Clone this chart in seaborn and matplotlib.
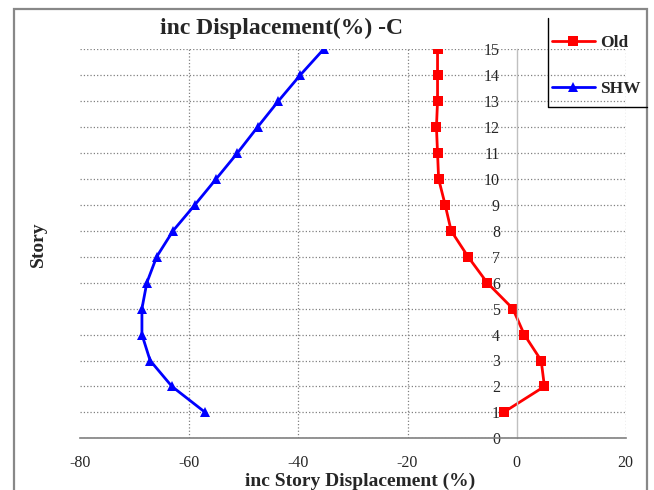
import matplotlib
matplotlib.use('Agg')
import matplotlib.pyplot as plt
import matplotlib.patches as mpatches
from matplotlib.lines import Line2D
import numpy as np
import pandas as pd
import seaborn as sns

# data
stories = list(range(1, 16))
old_disp = [-2.4, 5.1, 4.5, 1.4, -0.7, -5.4, -8.9, -12.0, -13.1, -14.3,
            -14.5, -14.7, -14.5, -14.5, -14.5]
shw_disp = [-57.1, -63.2, -67.2, -68.7, -68.7, -67.8, -66.0, -63.0, -59.0,
            -55.1, -51.2, -47.5, -43.7, -39.7, -35.4]
series_names = ['Old', 'SHW']
x_ticks = [-80, -60, -40, -20, 0, 20]
y_ticks = list(range(0, 16))

df = pd.concat([
    pd.DataFrame({'story': stories, 'disp': old_disp, 'series': 'Old'}),
    pd.DataFrame({'story': stories, 'disp': shw_disp, 'series': 'SHW'}),
], ignore_index=True)

sns.set_style('white')
plt.rcParams['font.family'] = ['Liberation Serif', 'DejaVu Serif']
plt.rcParams['axes.unicode_minus'] = False

fig = plt.figure(figsize=(6.54, 4.9), dpi=100)
ax = fig.add_axes([80.3 / 654, 51.7 / 490, 545.4 / 654, 389 / 490])

sns.lineplot(data=df, x='disp', y='story', hue='series', style='series',
             hue_order=series_names, style_order=series_names,
             palette={'Old': 'red', 'SHW': 'blue'},
             markers={'Old': 's', 'SHW': '^'}, dashes=False, sort=False,
             estimator=None, linewidth=2.0, markersize=7.5, markeredgewidth=0,
             ax=ax)

ax.set_xlim(-80, 20)
ax.set_ylim(0, 15)
ax.set_xticks(x_ticks)
ax.set_yticks(y_ticks)

# axes styling: vertical axis crosses at x=0
ax.spines['left'].set_position(('data', 0))
ax.spines['left'].set_color('#c0c0c0')
ax.spines['left'].set_linewidth(1.0)
ax.spines['bottom'].set_color('#808080')
ax.spines['bottom'].set_linewidth(1.2)
ax.spines['top'].set_visible(False)
ax.spines['right'].set_visible(False)

ax.grid(True, linestyle=':', color='#808080', linewidth=0.9)
ax.set_axisbelow(True)
ax.xaxis.get_gridlines()[0].set_visible(False)
ax.xaxis.get_gridlines()[4].set_visible(False)

ax.tick_params(axis='x', length=0, pad=12, labelsize=11.5)
ax.tick_params(axis='y', length=0, pad=12, labelsize=11.5)

ax.set_xlabel('inc Story Displacement (%)', fontsize=14, fontweight='bold')
ax.xaxis.set_label_coords(0.513, -0.088)
ax.set_ylabel('Story', fontsize=14, fontweight='bold')
ax.yaxis.set_label_coords(-0.062, 0.5)

fig.text(282 / 654, 1 - 28 / 490, 'inc Displacement(%) -C', ha='center',
         va='center', fontsize=17, fontweight='bold')

leg = ax.legend(loc='upper left', bbox_to_anchor=(540 / 654, 1 - 28 / 490, 107 / 654, 0.01),
                bbox_transform=fig.transFigure, mode='expand', frameon=False,
                labelspacing=1.7, handlelength=2.45, handletextpad=0.3,
                borderaxespad=0, borderpad=0.7,
                prop={'weight': 'bold', 'size': 12.5})

# legend box: only left and bottom edges show in the reference
fig.add_artist(Line2D([548 / 654, 548 / 654, 647 / 654],
                      [1 - 18 / 490, 1 - 107 / 490, 1 - 107 / 490],
                      transform=fig.transFigure, color='black', linewidth=1.0))

# outer chart frame
fig.patches.append(mpatches.Rectangle((14 / 654, -0.05), 633 / 654, 1.05 - 9 / 490,
                                      transform=fig.transFigure, fill=False,
                                      edgecolor='#888888', linewidth=1.6))

fig.savefig('out.png', dpi=100)
